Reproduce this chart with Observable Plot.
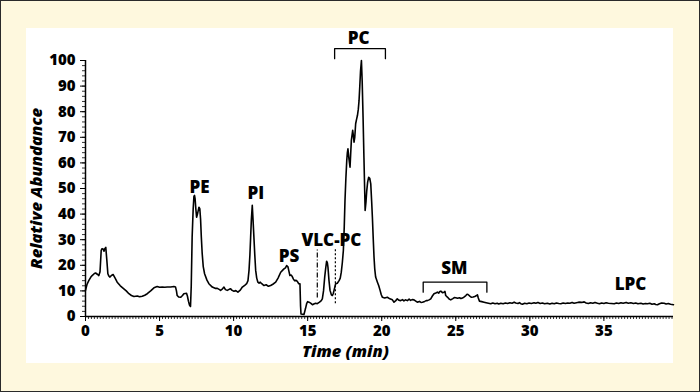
<!DOCTYPE html>
<html>
<head>
<meta charset="utf-8">
<script src="https://cdn.jsdelivr.net/npm/d3@7"></script>
<script src="https://cdn.jsdelivr.net/npm/@observablehq/plot@0.6"></script>
<style>
  body { margin: 0; }
  #frame { position: relative; width: 698px; height: 390px; border: 1px solid #2a2a2a; background: #fef8de; }
  #panel { position: absolute; left: 25px; top: 27px; width: 647px; height: 335px; background: #ffffff; }
</style>
</head>
<body>
<div id="frame"><div id="panel"></div></div>
<script>
// Chromatogram trace: retention time (min) and relative abundance (%)
const times = [0,0.1,0.22,0.35,0.45,0.6,0.68,0.8,0.9,0.98,1.06,1.12,1.19,1.25,1.3,1.37,1.44,1.51,1.58,1.64,1.75,1.87,2.0,2.14,2.35,2.59,2.75,2.93,3.1,3.27,3.5,3.65,3.83,4.0,4.17,4.4,4.62,4.84,5.0,5.18,5.35,5.52,5.75,5.97,6.08,6.14,6.19,6.3,6.42,6.55,6.64,6.82,6.88,6.95,7.02,7.09,7.14,7.2,7.27,7.32,7.36,7.4,7.45,7.5,7.56,7.66,7.72,7.77,7.82,7.88,7.95,8.04,8.2,8.33,8.56,8.75,8.9,9.05,9.12,9.25,9.35,9.45,9.57,9.7,9.8,9.9,10.02,10.15,10.29,10.45,10.59,10.75,10.88,10.97,11.04,11.1,11.15,11.2,11.26,11.31,11.37,11.43,11.49,11.56,11.64,11.72,11.8,11.9,12.05,12.2,12.35,12.5,12.65,12.84,13.0,13.18,13.3,13.4,13.5,13.58,13.67,13.74,13.8,13.88,13.96,14.04,14.12,14.22,14.3,14.4,14.48,14.52,14.55,14.65,14.75,14.85,14.93,15.0,15.09,15.2,15.32,15.45,15.54,15.65,15.8,15.92,15.99,16.07,16.15,16.22,16.28,16.33,16.37,16.44,16.51,16.6,16.67,16.73,16.78,16.89,17.0,17.12,17.2,17.27,17.34,17.41,17.47,17.52,17.58,17.64,17.68,17.72,17.78,17.86,17.9,17.95,18.0,18.04,18.09,18.13,18.18,18.24,18.3,18.36,18.42,18.47,18.52,18.57,18.63,18.68,18.74,18.8,18.88,18.94,18.99,19.05,19.12,19.19,19.26,19.32,19.37,19.43,19.48,19.53,19.59,19.71,19.8,19.89,19.97,20.05,20.2,20.38,20.55,20.72,20.83,20.95,21.05,21.15,21.28,21.4,21.5,21.6,21.73,21.85,21.95,22.05,22.18,22.3,22.4,22.55,22.65,22.75,22.9,23.0,23.08,23.2,23.31,23.42,23.53,23.65,23.76,23.85,23.92,23.99,24.1,24.21,24.27,24.32,24.45,24.55,24.66,24.8,24.9,25.0,25.12,25.25,25.35,25.45,25.55,25.68,25.76,25.83,25.95,26.06,26.17,26.28,26.38,26.46,26.52,26.6,26.75,26.91,27.05,27.2,27.36,27.5,27.65,27.8,27.9,28.04,28.2,28.35,28.5,28.65,28.8,28.94,29.05,29.2,29.3,29.39,29.5,29.65,29.8,29.95,30.1,30.29,30.4,30.55,30.7,30.85,31.0,31.19,31.35,31.5,31.65,31.8,31.95,32.09,32.25,32.4,32.55,32.7,32.85,32.99,33.15,33.3,33.5,33.67,33.8,33.95,34.1,34.25,34.4,34.57,34.7,34.85,35.0,35.15,35.3,35.5,35.7,35.85,36.0,36.15,36.3,36.5,36.65,36.82,37.0,37.15,37.3,37.5,37.65,37.8,37.95,38.1,38.25,38.4,38.5,38.62,38.75,38.9,39.07,39.2,39.35,39.5,39.7];
const abundance = [10.2,12.5,14,15.3,16,16.8,17,16.5,16,17.5,25.8,26.5,26.4,25.5,26.5,27,22,16.7,15.8,15.4,16,16.4,15,13.4,12,10.8,10,8.9,8.2,7.8,8,7.7,7.9,8.3,8.9,10,11.2,11.7,11.4,11.5,11.4,11.5,11.5,11.7,11.5,10,8.2,7.6,7.5,8.2,8.9,9.1,8,6,4.5,3.9,12,31,42,46.9,47.3,46,42,38.8,40,42.7,42,38,31,24.5,19.5,16.7,14.2,12.8,11.5,11,11,10.5,10.2,10.8,11.5,10.5,10.2,10.6,10.8,10.2,9.9,10.1,9.5,10.3,11.5,12.2,12.8,14,18,24,31,38,43.4,38,31,24,18,15,13.4,13,13.4,12.8,12.1,12.4,11.8,12.1,12.6,13.4,15,17.3,18,18.6,19,19.9,19.4,17.5,16,16.2,15.6,14.6,14,14.1,13.7,12.8,12.8,4,1,0.9,0.8,3,5,5.8,5.6,5.2,4.6,5,5.2,5,5.6,6.2,6.9,10,15.4,19,21.6,21,19.3,14,10.2,8.5,8.2,9,10.2,12.8,13,14,15,17.3,21,25.8,35,45.3,54,61,64,65.5,62,58.3,63,68.8,71,72.7,70.5,68.1,70,75.3,77,78.5,81,84.4,90,96,100,92,77.9,62,41.4,45,49.2,52.5,54.4,54,51.8,45,38.8,30,23.2,18.5,15.4,13.4,12,10.2,8.5,7.5,7.2,7.5,6.9,6.5,5.6,6.2,6.9,6.4,6.2,6.6,6.1,6.5,6.2,6.8,6.3,6.6,6.5,6.0,5.6,5.9,5.5,5.6,5.9,6.2,6.2,6.5,6.9,8,8.9,9.2,9.5,9.1,9.8,9.9,9.3,9.5,9.8,8.2,7.5,6.8,6.5,7,7.4,7.3,7.1,7.3,7.0,7.2,7.6,8.2,8.7,8.6,8.0,7.5,7.6,7.8,8.1,8.5,7.2,6,5.8,5.6,5.4,5.2,5,5.3,5.0,5.2,4.9,5.2,5.0,5.3,5.1,5.4,5.2,5.6,5.3,5.1,5.4,5,4.8,5.2,5.0,5.3,5.1,5.4,5.2,5.5,5.1,5.3,5.0,5.2,4.9,5.2,5.0,5.3,5.1,5,5.3,5.1,5.3,5.2,5.5,5.2,5.4,5.6,5.5,5.7,5.3,5.1,5.4,5.2,5.5,5.2,5.0,5.3,5.1,5.4,5.2,5.1,5.0,5.3,5.1,5.4,5.2,5.5,5.2,5.4,5.1,5.3,5.0,5.2,4.9,5.1,5,5.2,4.8,5.0,4.7,4.6,5.0,5.3,5.2,4.9,5.1,4.8,4.6];

// Peak labels
const labelText = ["PE", "PI", "PS", "VLC-PC", "PC", "SM", "LPC"];
const labelTime = [7.7, 11.5, 13.75, 16.6, 18.45, 24.9, 36.8];
const labelAbund = [50.4, 47.9, 23.6, 29.8, 108.6, 18.6, 12.5];

// Brackets (start, end, top level, foot level)
const bracketStart = [16.82, 22.8];
const bracketEnd = [20.25, 27.1];
const bracketTop = [104.6, 13.4];
const bracketFoot = [100.7, 9.5];

// VLC-PC marker lines
const markerTime = [15.65, 16.87];
const markerTop = [26.5, 26.5];
const markerBottom = [7.2, 5.0];
const markerDash = ["5,2,1,2", "2,2"];

// Axis ticks
const xTickLabels = [0, 5, 10, 15, 20, 25, 30, 35];
const yTickLabels = [0, 10, 20, 30, 40, 50, 60, 70, 80, 90, 100];
const xMinor = d3.range(0, 39.71, 0.2);
const yMinor = d3.range(0, 100.01, 2);

const trace = times.map((t, i) => ({t, a: abundance[i]}));
const labels = labelText.map((s, i) => ({s, t: labelTime[i], a: labelAbund[i]}));
const brackets = [];
bracketStart.forEach((s, i) => {
  brackets.push({id: i, t: s, a: bracketFoot[i]});
  brackets.push({id: i, t: s, a: bracketTop[i]});
  brackets.push({id: i, t: bracketEnd[i], a: bracketTop[i]});
  brackets.push({id: i, t: bracketEnd[i], a: bracketFoot[i]});
});
const markers = markerTime.map((t, i) => ({t, y1: markerBottom[i], y2: markerTop[i], dash: markerDash[i]}));

const font = "'Open Sans', 'DejaVu Sans', sans-serif";
const W = 800;

const chart = Plot.plot({
  width: 647,
  height: 335,
  marginLeft: 59,
  marginRight: 0,
  marginTop: 32,
  marginBottom: 47,
  style: {fontFamily: font, fontWeight: W, fontSize: "15px", background: "transparent", overflow: "visible", color: "#000"},
  x: {domain: [0, 39.7]},
  y: {domain: [0, 100]},
  marks: [
    // minor ticks (no labels)
    Plot.ruleX(xMinor, {x: d => d, y1: 0, y2: 0, insetBottom: -3, stroke: "#000", strokeWidth: 0.8}),
    Plot.ruleY(yMinor, {y: d => d, x1: 0, x2: 0, insetLeft: -3, stroke: "#000", strokeWidth: 0.8}),
    Plot.axisX(xTickLabels, {tickSize: 5, tickPadding: 4, fontSize: 15, fontWeight: W, label: null, strokeWidth: 1}),
    Plot.axisY(yTickLabels, {tickSize: 5, tickPadding: 5, fontSize: 15, fontWeight: W, label: null, strokeWidth: 1}),
    Plot.ruleX([0], {stroke: "#000", strokeWidth: 1.5}),
    Plot.ruleY([0], {stroke: "#000", strokeWidth: 1.5}),
    Plot.text(["Time (min)"], {x: 17.55, frameAnchor: "bottom", dy: 40, text: d => d, fontSize: 16.5, fontWeight: W, fontStyle: "italic"}),
    Plot.text(["Relative Abundance"], {frameAnchor: "left", textAnchor: "middle", dx: -49, rotate: -90, text: d => d, fontSize: 16.5, fontWeight: W, fontStyle: "italic"}),
    ...markers.map(m => Plot.ruleX([m], {x: "t", y1: "y1", y2: "y2", stroke: "#000", strokeWidth: 1.2, strokeDasharray: m.dash})),
    Plot.line(brackets, {x: "t", y: "a", z: "id", stroke: "#000", strokeWidth: 1.3}),
    Plot.line(trace, {x: "t", y: "a", stroke: "#000", strokeWidth: 1.6, strokeLinejoin: "round"}),
    Plot.text(labels, {x: "t", y: "a", text: "s", fontSize: 17, fontWeight: W})
  ]
});
document.getElementById("panel").appendChild(chart);
</script>
</body>
</html>
